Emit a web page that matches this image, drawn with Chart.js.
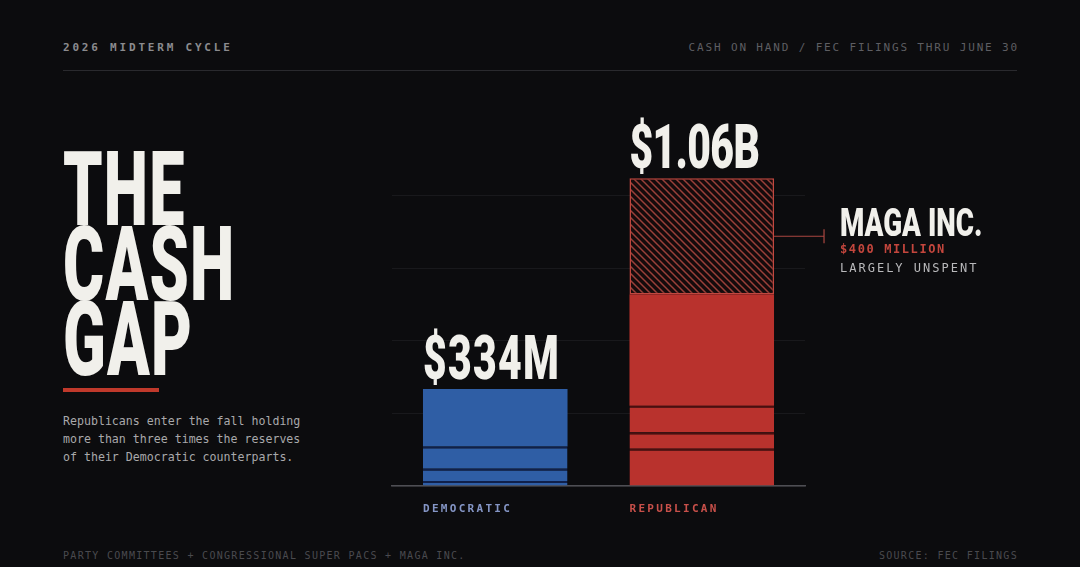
<!DOCTYPE html>
<html>
<head>
<meta charset="utf-8">
<script src="https://cdn.jsdelivr.net/npm/chart.js@4.4.1/dist/chart.umd.min.js"></script>
<style>
  html, body { margin: 0; padding: 0; background: #0c0c0e; }
  body { width: 1080px; height: 567px; position: relative; overflow: hidden; font-family: "DejaVu Sans Mono", "Liberation Mono", monospace; }
  #wrap { position: absolute; left: 0; top: 0; width: 1080px; height: 567px; }
  .mono { position: absolute; white-space: nowrap; line-height: 1; }
  #hdrL { left: 63px; top: 42px; font-size: 11px; font-weight: bold; letter-spacing: 2.8px; color: #8b8b8e; }
  #hdrR { right: 61px; top: 42px; font-size: 11px; letter-spacing: 1.85px; color: #5e5e62; }
  #rule { position: absolute; left: 63px; top: 70px; width: 954px; height: 1px; background: #2a2a2e; }
  #title { position: absolute; left: 63px; top: 152px; font-family: Roboto, "Noto Sans", sans-serif; font-weight: 900;
           font-size: 103px; line-height: 75px; color: #f1f0eb; transform: scaleX(0.61); transform-origin: 0 0; letter-spacing: 2px; }
  #redbar { position: absolute; left: 63px; top: 388px; width: 96px; height: 4px; background: #c0392b; }
  #desc { position: absolute; left: 63px; top: 412px; font-size: 11.6px; line-height: 18px; color: #a9a9ab; white-space: nowrap; }
  #ftL { left: 63px; top: 551px; font-size: 10px; letter-spacing: 1.3px; color: #4a4a4e; }
  #ftR { right: 62px; top: 551px; font-size: 10px; letter-spacing: 1.3px; color: #4a4a4e; }
</style>
</head>
<body>
<div class="mono" id="hdrL">2026 MIDTERM CYCLE</div>
<div class="mono" id="hdrR">CASH ON HAND / FEC FILINGS THRU JUNE 30</div>
<div id="rule"></div>
<div id="title">THE<br>CASH<br>GAP</div>
<div id="redbar"></div>
<div id="desc">Republicans enter the fall holding<br>more than three times the reserves<br>of their Democratic counterparts.</div>
<div class="mono" id="ftL">PARTY COMMITTEES + CONGRESSIONAL SUPER PACS + MAGA INC.</div>
<div class="mono" id="ftR">SOURCE: FEC FILINGS</div>
<div id="wrap"><canvas id="myChart" width="1080" height="567"></canvas></div>
<script>
// Cash on hand, $ millions
const parties = ['DEMOCRATIC', 'REPUBLICAN'];
const totalLabels = ['$334M', '$1.06B'];
const seg1 = [17, 128];
const seg2 = [42, 56];
const seg3 = [77, 92];
const seg4 = [198, 384];
const magaInc = [null, 400];
const yTicks = [0, 250, 500, 750, 1000];

const blue = '#2f5ea5';
const red = '#b9322d';
const lineDark = ['#10204a', '#4a0f0f'];

// diagonal hatch for MAGA Inc. segment
function makeHatch() {
    const c = document.createElement('canvas');
    c.width = 7; c.height = 7;
    const g = c.getContext('2d');
    g.fillStyle = '#150b0c';
    g.fillRect(0, 0, 7, 7);
    g.strokeStyle = '#9a403a';
    g.lineWidth = 1.5;
    g.beginPath();
    g.moveTo(0, 0); g.lineTo(7, 7);
    g.moveTo(-1, 6); g.lineTo(1, 8);
    g.moveTo(6, -1); g.lineTo(8, 1);
    g.stroke();
    return g.createPattern(c, 'repeat');
}

const totals = parties.map((p, i) =>
    [seg1, seg2, seg3, seg4, magaInc].reduce((s, d) => s + (d[i] || 0), 0));

const labelsPlugin = {
    id: 'labels',
    afterDatasetsDraw(chart) {
        const ctx = chart.ctx;
        const y = chart.scales.y;
        const meta0 = chart.getDatasetMeta(0);
        ctx.save();
        parties.forEach((p, i) => {
            const bar = meta0.data[i];
            const left = bar.x - bar.width / 2;
            const top = y.getPixelForValue(totals[i]);
            // big value label
            ctx.save();
            ctx.translate(left, top - 10);
            ctx.scale(0.66, 1);
            ctx.fillStyle = '#f1f0eb';
            ctx.font = '900 62px Roboto, "Noto Sans", sans-serif';
            ctx.letterSpacing = i === 0 ? '2px' : '-1px';
            ctx.fillText(totalLabels[i], 0, 0);
            ctx.restore();
            // category label
            ctx.fillStyle = i === 0 ? '#8596c6' : '#c8504a';
            ctx.font = 'bold 11px "DejaVu Sans Mono", monospace';
            ctx.letterSpacing = '2.3px';
            ctx.fillText(p, left, 512);
            ctx.letterSpacing = '0px';
        });
        // MAGA Inc. annotation
        const hb = chart.getDatasetMeta(4).data[1];
        const cy = (hb.y + hb.base) / 2;
        const x0 = hb.x + hb.width / 2;
        ctx.strokeStyle = '#a94640';
        ctx.lineWidth = 1.2;
        ctx.beginPath();
        ctx.moveTo(x0, cy); ctx.lineTo(x0 + 50, cy);
        ctx.moveTo(x0 + 50, cy - 7); ctx.lineTo(x0 + 50, cy + 7);
        ctx.stroke();
        const tx = x0 + 66;
        ctx.save();
        ctx.translate(tx, cy);
        ctx.scale(0.73, 1);
        ctx.fillStyle = '#f1f0eb';
        ctx.font = '900 38px Roboto, "Noto Sans", sans-serif';
        ctx.fillText('MAGA INC.', 0, 0);
        ctx.restore();
        ctx.fillStyle = '#c4463d';
        ctx.font = 'bold 12px "DejaVu Sans Mono", monospace';
        ctx.letterSpacing = '1.6px';
        ctx.fillText('$400 MILLION', tx, cy + 17);
        ctx.fillStyle = '#b9b9bb';
        ctx.font = '12px "DejaVu Sans Mono", monospace';
        ctx.letterSpacing = '2px';
        ctx.fillText('LARGELY UNSPENT', tx, cy + 36);
        ctx.restore();
    }
};

const ctx = document.getElementById('myChart').getContext('2d');
new Chart(ctx, {
    type: 'bar',
    data: {
        labels: parties,
        datasets: [
            { data: seg1, backgroundColor: [blue, red], borderColor: lineDark, borderWidth: { top: 2 }, borderSkipped: false },
            { data: seg2, backgroundColor: [blue, red], borderColor: lineDark, borderWidth: { top: 2 }, borderSkipped: false },
            { data: seg3, backgroundColor: [blue, red], borderColor: lineDark, borderWidth: { top: 2 }, borderSkipped: false },
            { data: seg4, backgroundColor: [blue, red], borderWidth: 0 },
            { data: magaInc, backgroundColor: makeHatch(), borderColor: '#c2473f', borderWidth: 1.5, borderSkipped: false }
        ]
    },
    options: {
        responsive: false,
        animation: false,
        barPercentage: 0.7,
        categoryPercentage: 1,
        layout: { padding: { left: 392, right: 275, top: 123, bottom: 81 } },
        scales: {
            x: {
                stacked: true,
                grid: { display: false, drawTicks: false },
                border: { display: true, color: '#4e4e53', width: 1.5 },
                ticks: { display: false }
            },
            y: {
                stacked: true,
                min: 0,
                max: 1250,
                afterBuildTicks: (axis) => { axis.ticks = yTicks.map(v => ({ value: v })); },
                grid: { color: '#19191c', lineWidth: 1, drawTicks: false },
                border: { display: false },
                ticks: { display: false }
            }
        },
        plugins: {
            legend: { display: false },
            tooltip: { enabled: false }
        }
    },
    plugins: [labelsPlugin]
});
</script>
</body>
</html>
